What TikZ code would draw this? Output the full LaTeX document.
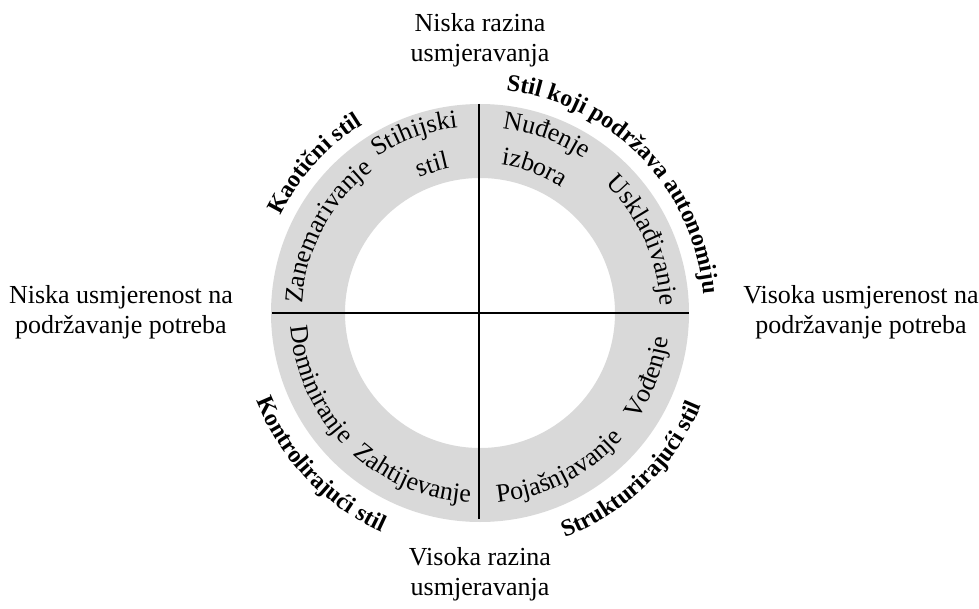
\documentclass[tikz,border=0pt]{standalone}
\usepackage{fontspec}
\setmainfont{Liberation Serif}
\usetikzlibrary{decorations.text}
\definecolor{ringgray}{RGB}{217,217,217}
\newcommand{\regfont}{\fontsize{26}{30}\selectfont}
\newcommand{\boldfont}{\fontsize{24}{30}\selectfont\bfseries}
% clockwise text (top half): #1 radius, #2 mid angle, #3 format, #4 text
\newcommand{\cwtext}[4]{%
  \pgfmathsetmacro\sa{#2+60}\pgfmathsetmacro\ea{#2-60}%
  \path[decorate, decoration={text along path, text align=center, text={|#3|#4}}]
    (\sa:#1) arc[start angle=\sa, end angle=\ea, radius=#1];}
% counter-clockwise text (bottom half)
\newcommand{\ccwtext}[4]{%
  \pgfmathsetmacro\sa{#2-60}\pgfmathsetmacro\ea{#2+60}%
  \path[decorate, decoration={text along path, text align=center, text={|#3|#4}}]
    (\sa:#1) arc[start angle=\sa, end angle=\ea, radius=#1];}
\begin{document}
\begin{tikzpicture}[x=1pt,y=1pt,
  sidelabel/.style={font=\regfont, align=center, inner sep=0pt},
  axisline/.style={line width=2.2pt, black}]
\useasboundingbox (-480,-295) rectangle (499,313);
\fill[ringgray, even odd rule] (0,0) circle[radius=209] (0,0) circle[radius=135];
\coordinate (L) at (-208,0);
\coordinate (R) at (209,0);
\coordinate (T) at (-1,209);
\coordinate (B) at (-1,-206);
\draw[axisline] (L) -- (R);
\draw[axisline] (T) -- (B);
% outer labels
\node[sidelabel] (toplbl) at (0,273) {Niska razina\\usmjeravanja};
\node[sidelabel] (botlbl) at (0,-261) {Visoka razina\\usmjeravanja};
\node[sidelabel] (leftlbl) at (-359,1) {Niska usmjerenost na\\podržavanje potreba};
\node[sidelabel] (rightlbl) at (381,1) {Visoka usmjerenost na\\podržavanje potreba};
% inner ring texts, top half
\cwtext{178}{152}{\regfont}{Zanemarivanje}
\cwtext{187}{110}{\regfont}{Stihijski}
\cwtext{148}{108}{\regfont}{stil}
\cwtext{186}{69.5}{\regfont}{Nuđenje}
\cwtext{150}{69.5}{\regfont}{izbora}
\cwtext{180}{24}{\regfont}{Usklađivanje}
% inner ring texts, bottom half
\ccwtext{190}{204}{\regfont}{Dominiranje}
\ccwtext{190}{247.5}{\regfont}{Zahtijevanje}
\ccwtext{190}{-63}{\regfont}{Pojašnjavanje}
\ccwtext{190}{-21}{\regfont}{Vođenje}
% style names
\cwtext{222}{138}{\boldfont}{Kaotični stil}
\cwtext{224}{44}{\boldfont}{Stil koji podržava autonomiju}
\ccwtext{240}{223.5}{\boldfont}{Kontrolirajući stil}
\ccwtext{240}{-46}{\boldfont}{Strukturirajući stil}
\end{tikzpicture}
\end{document}
